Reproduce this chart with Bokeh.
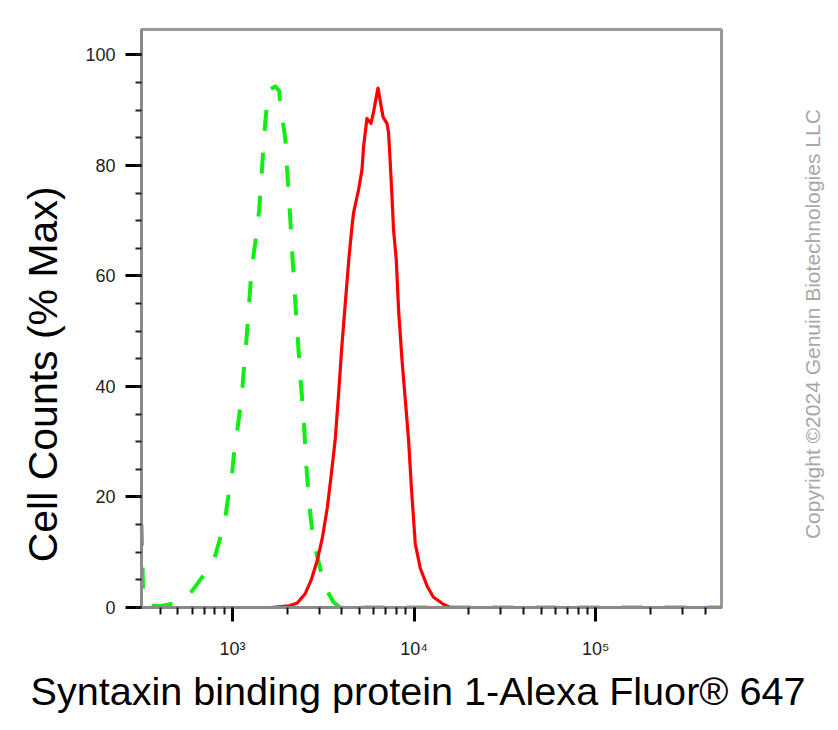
import math
from bokeh.plotting import figure
from bokeh.layouts import row, column
from bokeh.models import Range1d, FixedTicker, SingleIntervalTicker
from bokeh.core.properties import value
from bokeh.embed import file_html
from bokeh.resources import INLINE

# ---- data ----
isotype_x = [316, 323, 344, 411, 516, 600, 679, 787, 857, 913, 952, 994, 1023, 1063,
             1104, 1137, 1161, 1191, 1217, 1242, 1269, 1310, 1361, 1405, 1432, 1459,
             1487, 1516, 1561, 1615, 1721, 1810, 1833, 1953, 2029, 2081, 2135, 2189,
             2246, 2303, 2363, 2423, 2485, 2549, 2614, 2682, 2750, 2894, 3083, 3327,
             3590, 3923, 10000, 100000, 492000]
isotype_y = [15, 2, 0.3, 0.3, 1, 3, 5.4, 8.3, 12.6, 16.2, 20.4, 24, 28.2, 32,
             36.1, 40, 43.9, 47.9, 52, 56, 60.2, 64, 68, 72, 76, 80,
             84, 87.7, 92.2, 93.8, 94.3, 93.5, 91, 85, 76, 70.5, 64, 58.5,
             52.5, 47.5, 42, 37.5, 32.5, 26, 21, 17, 14, 10, 6.3, 3,
             1, 0, 0, 0, 0]

stained_x = [316, 1615, 2055, 2275, 2517, 2716, 2931, 3123, 3327, 3500, 3683, 3848,
             3997, 4180, 4370, 4550, 4643, 4947, 5166, 5272, 5503, 5790, 5984, 6328,
             6743, 7092, 7237, 7395, 7556, 7711, 7980, 8215, 8578, 8945, 9326, 9651,
             10153, 10817, 11822, 12756, 14485, 15825, 100000, 492000]
stained_y = [0, 0, 0.3, 0.8, 2.5, 5, 8.5, 12.5, 18, 24, 30.5, 39,
             47, 55, 62.9, 68.9, 71.4, 75.6, 79.2, 83.4, 88.5, 87.6, 89.7, 94.0,
             88.8, 87.6, 85.9, 80.4, 74.4, 68.3, 62.9, 53.9, 44.8, 37.6, 30.3, 22,
             11.5, 7.1, 3.8, 1.9, 0.6, 0, 0, 0]

x_major = [1000, 10000, 100000]
x_major_labels = ["10³", "10⁴", "10⁵"]
x_minor = [400, 500, 600, 700, 800, 900,
           2000, 3000, 4000, 5000, 6000, 7000, 8000, 9000,
           20000, 30000, 40000, 50000, 60000, 70000, 80000, 90000,
           200000, 300000, 400000]
x_start, x_end = 316, 492000
y_start, y_end = 0, 104.6

x_title = "Syntaxin binding protein 1-Alexa Fluor® 647"
y_title = "Cell Counts (% Max)"
copyright_text = "Copyright ©2024 Genuin Biotechnologies LLC"

FONT = "Liberation Sans"

# ---- layout geometry (pixels) ----
LW = 72                       # y-title strip width
FW, FH = 580, 578
BL, BT, BR, BB = 141 - LW, 29, 60, 60
TOP_H = BT + FH + BB          # height of the plot row
CW = 56                       # copyright strip width
BOTTOM_H = 62                 # x-title strip height
TOTAL_W = LW + BL + FW + BR + CW


def blank(width, height):
    f = figure(width=width, height=height, x_range=Range1d(0, width), y_range=Range1d(height, 0),
               min_border=0, x_axis_location=None, y_axis_location=None, title=None,
               output_backend="svg", toolbar_location=None, tools="")
    f.grid.visible = False
    f.outline_line_color = None
    f.background_fill_color = "white"
    f.border_fill_color = "white"
    return f


p = figure(x_axis_type="log", x_range=Range1d(x_start, x_end), y_range=Range1d(y_start, y_end),
           frame_width=FW, frame_height=FH,
           min_border_left=BL, min_border_top=BT, min_border_right=BR, min_border_bottom=BB,
           output_backend="svg", toolbar_location=None, tools="")
p.background_fill_color = "white"
p.border_fill_color = "white"
p.grid.visible = False
p.outline_line_color = "#9a9a9a"
p.outline_line_width = 3

# x axis
xa = p.xaxis[0]
xa.ticker = FixedTicker(ticks=x_major, minor_ticks=x_minor)
xa.major_label_overrides = {v: s for v, s in zip(x_major, x_major_labels)}
xa.axis_line_color = "#8a8a8a"
xa.axis_line_width = 3
xa.major_tick_line_color = "black"
xa.major_tick_line_width = 3
xa.major_tick_out = 14
xa.major_tick_in = 0
xa.minor_tick_line_color = "#111111"
xa.minor_tick_line_width = 2
xa.minor_tick_out = 7
xa.minor_tick_in = 0
xa.major_label_text_font = FONT
xa.major_label_text_font_size = "18px"
xa.major_label_text_color = "#222222"
xa.major_label_standoff = 17

# y axis
ya = p.yaxis[0]
ya.ticker = SingleIntervalTicker(interval=20, num_minor_ticks=4)
ya.axis_line_color = "#8a8a8a"
ya.axis_line_width = 3
ya.major_tick_line_color = "black"
ya.major_tick_line_width = 3
ya.major_tick_out = 16
ya.major_tick_in = 0
ya.minor_tick_line_color = "#222222"
ya.minor_tick_line_width = 2
ya.minor_tick_out = 6
ya.minor_tick_in = 0
ya.major_label_text_font = FONT
ya.major_label_text_font_size = "18px"
ya.major_label_text_color = "#222222"
ya.major_label_standoff = 10

# curves
p.line(isotype_x, isotype_y, line_color="#11ee11", line_width=4, line_dash="21 22",
       line_join="round")
p.line(stained_x, stained_y, line_color="#ff0000", line_width=3.2, line_join="round")

# y-axis title strip on the left
yl = blank(LW, TOP_H)
yl.text(x=[42], y=[398], text=[y_title], angle=math.pi / 2, text_align="center",
        text_baseline="middle", text_font=value(FONT), text_font_size="41px",
        text_color="black")

# copyright strip on the right
c = blank(CW, TOP_H)
c.text(x=[812 - (LW + BL + FW + BR)], y=[340], text=[copyright_text],
       angle=math.pi / 2, text_align="center", text_baseline="middle",
       text_font=value(FONT), text_font_size="21px", text_color="#a8a8a8")

# x-axis title strip below
t = blank(TOTAL_W, BOTTOM_H)
t.text(x=[30], y=[690 - TOP_H], text=[x_title], text_align="left", text_baseline="middle",
       text_font=value(FONT), text_font_size="39.6px", text_color="black")

layout = column(row(yl, p, c, spacing=0), t, spacing=0)
open("out.html", "w").write(file_html(layout, INLINE))
